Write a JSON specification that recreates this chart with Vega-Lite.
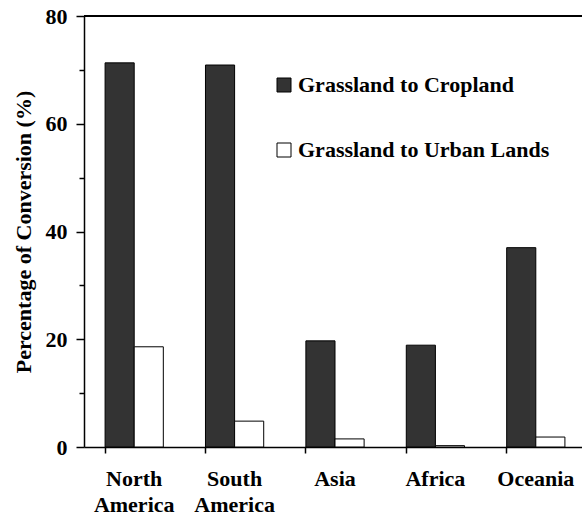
{
  "$schema": "https://vega.github.io/schema/vega-lite/v6.json",
  "width": 502,
  "height": 431,
  "autosize": {"type": "none"},
  "padding": {"left": 84, "top": 16, "right": 0, "bottom": 74},
  "background": "white",
  "config": {"view": {"stroke": null}, "font": "Liberation Serif"},
  "data": {
    "values": [
      {"region": "North America", "type": "Grassland to Cropland", "value": 71.3},
      {"region": "North America", "type": "Grassland to Urban Lands", "value": 18.6},
      {"region": "South America", "type": "Grassland to Cropland", "value": 70.9},
      {"region": "South America", "type": "Grassland to Urban Lands", "value": 4.8},
      {"region": "Asia", "type": "Grassland to Cropland", "value": 19.7},
      {"region": "Asia", "type": "Grassland to Urban Lands", "value": 1.5},
      {"region": "Africa", "type": "Grassland to Cropland", "value": 18.9},
      {"region": "Africa", "type": "Grassland to Urban Lands", "value": 0.25},
      {"region": "Oceania", "type": "Grassland to Cropland", "value": 37.0},
      {"region": "Oceania", "type": "Grassland to Urban Lands", "value": 1.85}
    ]
  },
  "layer": [
    {
      "mark": {"type": "bar", "stroke": "black", "strokeWidth": 1},
      "encoding": {
        "x": {
          "field": "region",
          "type": "nominal",
          "sort": ["North America", "South America", "Asia", "Africa", "Oceania"],
          "scale": {"paddingInner": 0.42, "paddingOuter": 0.21},
          "axis": {
            "title": null,
            "bandPosition": 0,
            "labelAngle": 0,
            "labelExpr": "split(datum.label, ' ')",
            "labelFont": "Liberation Serif",
            "labelFontWeight": "bold",
            "labelFontSize": 22,
            "labelColor": "black",
            "labelLineHeight": 26,
            "labelPadding": 15,
            "tickSize": 6,
            "tickColor": "black",
            "tickWidth": 1.5,
            "domainColor": "black",
            "domainWidth": 1.5,
            "grid": false
          }
        },
        "xOffset": {"field": "type", "sort": ["Grassland to Cropland", "Grassland to Urban Lands"]},
        "y": {
          "field": "value",
          "type": "quantitative",
          "scale": {"domain": [0, 80]},
          "axis": {
            "title": "Percentage of Conversion (%)",
            "values": [0, 5, 10, 15, 20, 25, 30, 35, 40, 45, 50, 55, 60, 65, 70, 75, 80],
            "labelExpr": "datum.value % 20 === 0 ? datum.label : ''",
            "ticks": true,
            "tickSize": 8,
            "tickDash": {"condition": {"test": "datum.value % 20 !== 0", "value": [5, 20]}, "value": [8, 0]},
            "tickColor": "black",
            "tickWidth": 1.5,
            "domainColor": "black",
            "domainWidth": 1.5,
            "grid": false,
            "labelFont": "Liberation Serif",
            "labelFontWeight": "bold",
            "labelFontSize": 22,
            "labelColor": "black",
            "labelPadding": 9,
            "titleFont": "Liberation Serif",
            "titleFontWeight": "bold",
            "titleFontSize": 22,
            "titleColor": "black",
            "titleAngle": -90,
            "titleBaseline": "middle",
            "titleX": -61,
            "titleY": 215.5
          }
        },
        "color": {
          "field": "type",
          "type": "nominal",
          "scale": {"domain": ["Grassland to Cropland", "Grassland to Urban Lands"], "range": ["#333333", "#ffffff"]},
          "legend": {
            "title": null,
            "orient": "none",
            "legendX": 189,
            "legendY": 58,
            "symbolType": "square",
            "symbolSize": 196,
            "symbolStrokeColor": "black",
            "symbolStrokeWidth": 1,
            "labelFont": "Liberation Serif",
            "labelFontWeight": "bold",
            "labelFontSize": 22,
            "labelColor": "black",
            "labelOffset": 3,
            "labelLimit": 0,
            "rowPadding": 43
          }
        }
      }
    },
    {
      "mark": {"type": "rule", "color": "black", "strokeWidth": 1.5},
      "encoding": {"y": {"datum": 80}}
    }
  ]
}
